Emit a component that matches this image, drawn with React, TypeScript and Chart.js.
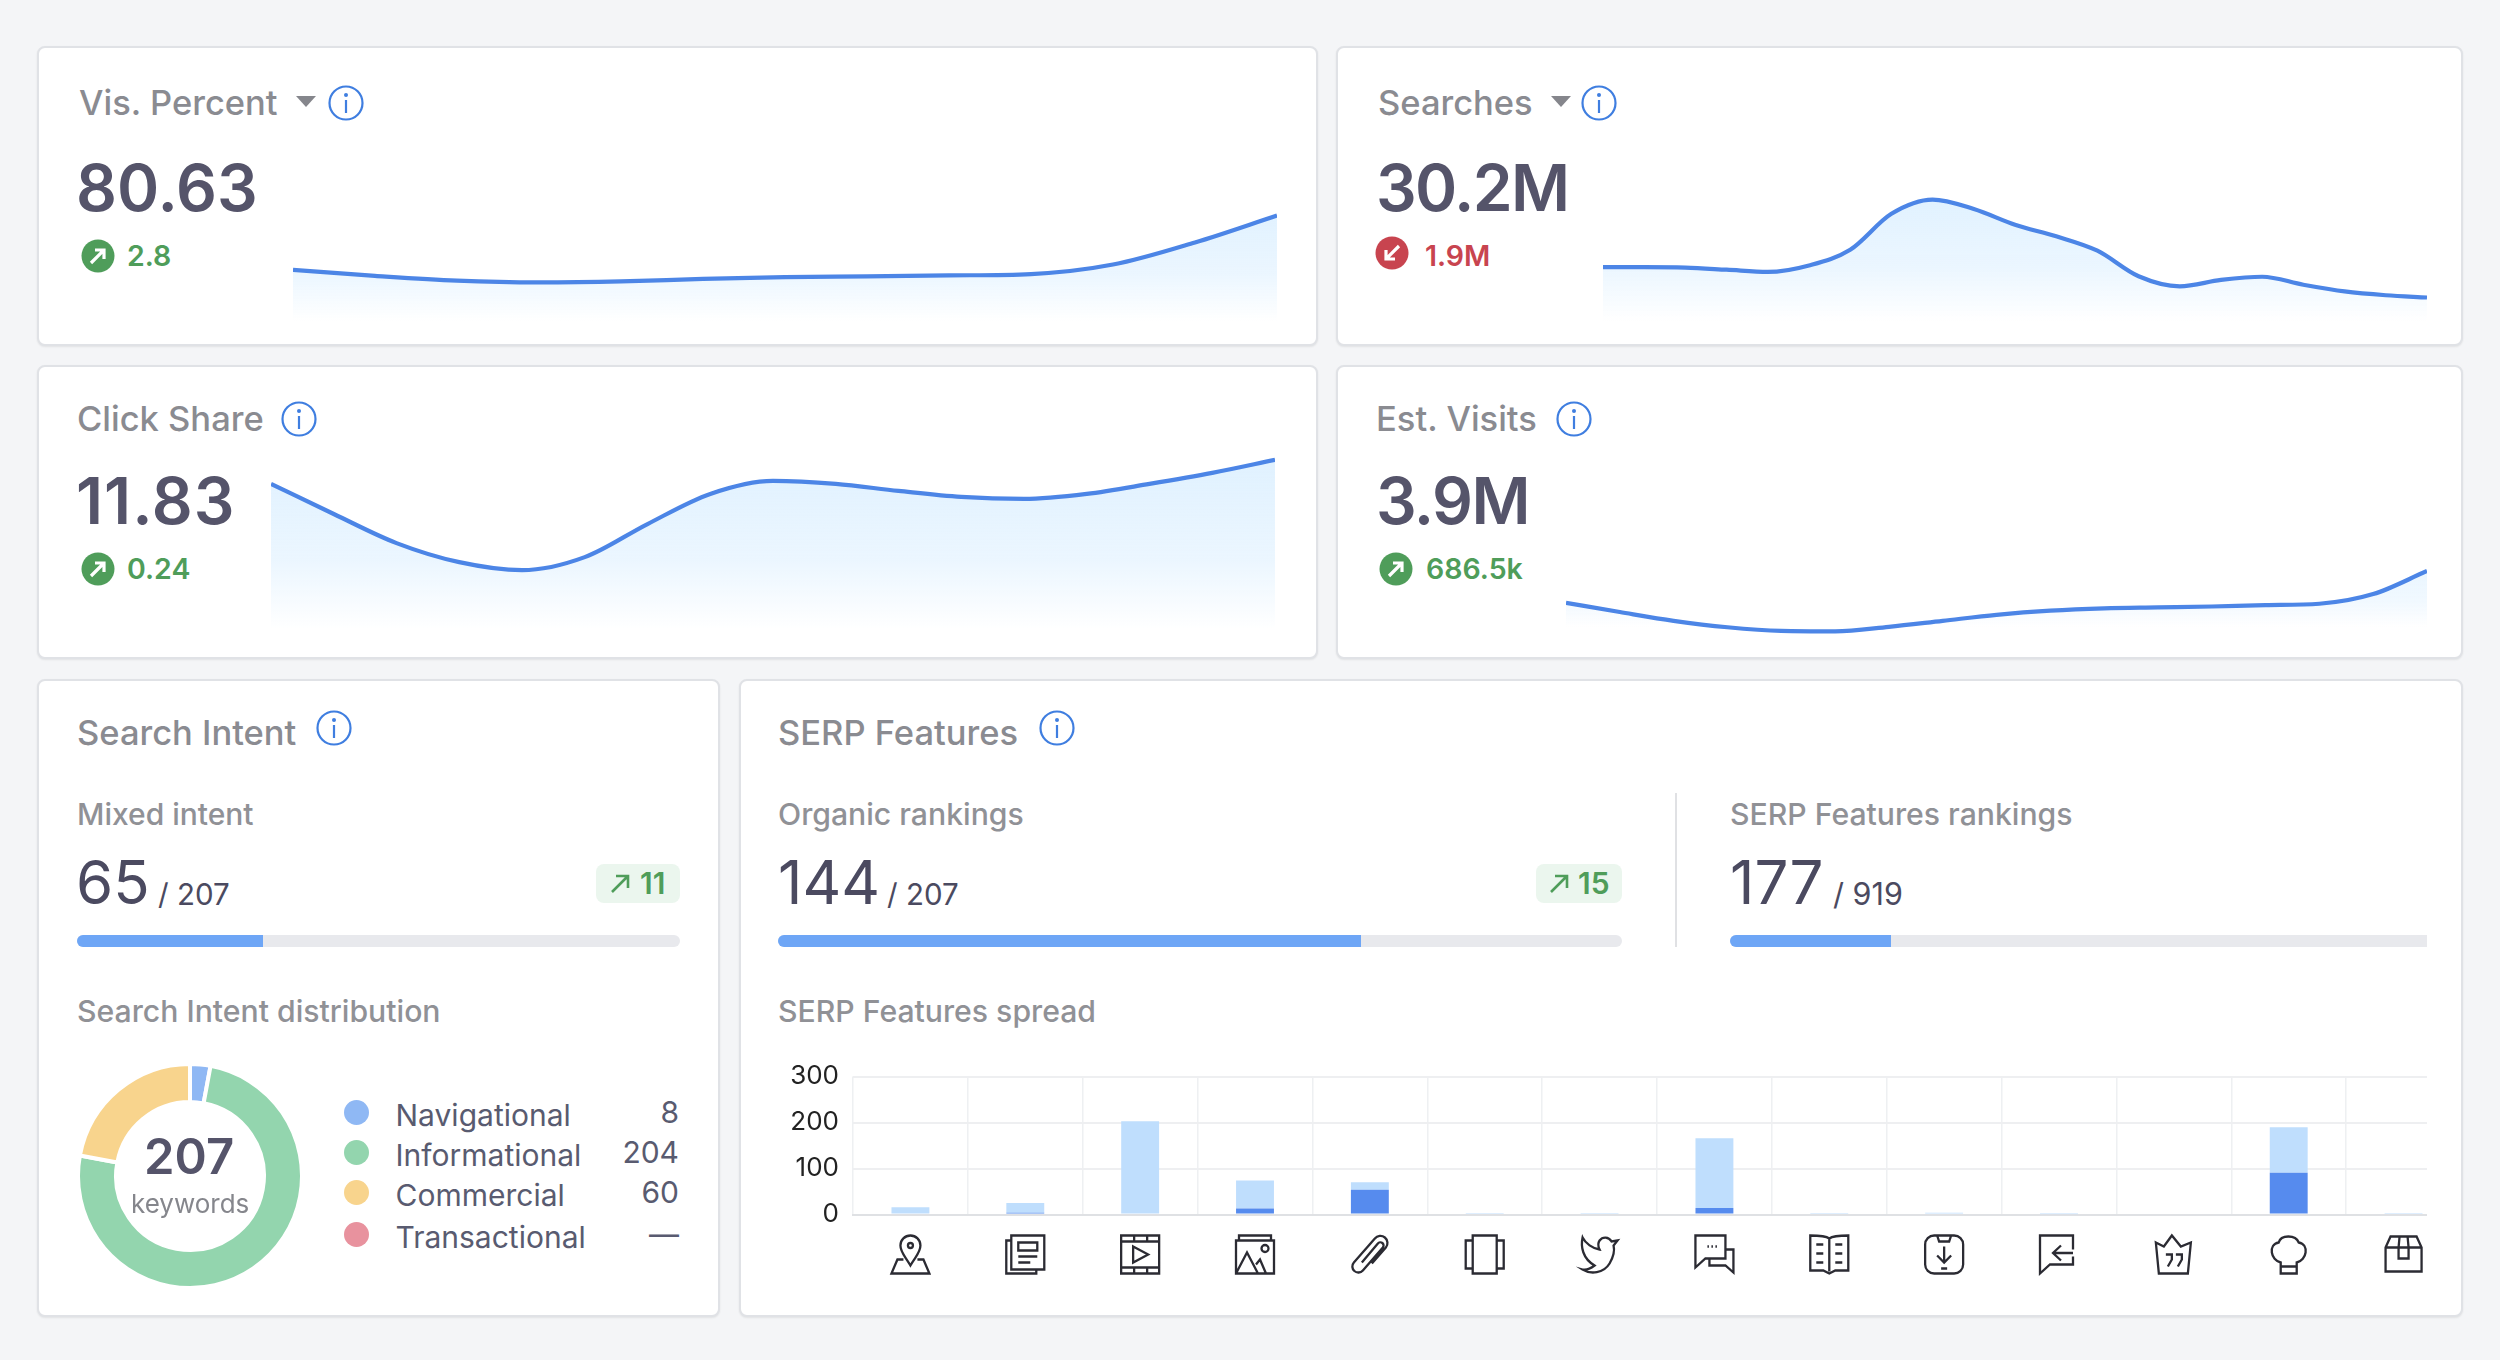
import Chart from "chart.js/auto";
import { useEffect, useRef } from "react";

const visPercentValues = [77.83, 77.52, 77.27, 77.18, 77.23, 77.36, 77.45, 77.49, 77.54, 77.61, 78.1, 79.24, 80.63];
const searchesValues = [32.1, 32.1, 32.07, 31.94, 31.8, 32.21, 33.19, 35.44, 36.33, 35.74, 34.76, 34.03, 33.13, 31.53, 30.9, 31.3, 31.5, 31.0, 30.58, 30.34, 30.2];
const clickShareValues = [11.59, 11.29, 11.0, 10.81, 10.73, 10.86, 11.19, 11.49, 11.62, 11.59, 11.52, 11.46, 11.44, 11.49, 11.59, 11.7, 11.83];
const estVisitsValues = [3.21, 3.01, 2.82, 2.68, 2.6, 2.59, 2.69, 2.82, 2.95, 3.04, 3.09, 3.11, 3.13, 3.16, 3.19, 3.4, 3.9];

const intentLabels = ["Navigational", "Informational", "Commercial", "Transactional"];
const intentValues = [8, 204, 60, 0];
const intentDisplay = ["8", "204", "60", "—"];
const intentColors = ["#8fb8f4", "#93d5ae", "#f8d48d", "#e8929e"];

const featureLabels = ["Local pack", "Top stories", "Video", "Images", "Sitelinks", "Carousel", "Twitter", "People also ask", "Knowledge panel", "App pack", "Reply", "Reviews", "Recipes", "Shopping"];
const featureOwned = [0, 4, 0, 13, 54, 0, 0, 14, 0, 0, 0, 2, 91, 0];
const featureOther = [16, 21, 203, 61, 16, 1, 3, 152, 3, 4, 0.5, 0, 99, 1];
const featureTicks = [0, 100, 200, 300];

// glyphs for the feature axis, 40x40 box
const featureIcons = [
  "M20 31C15 22 10 18 10 11A10 10 0 0 1 30 11C30 18 25 22 20 31ZM22.5 11A2.5 2.5 0 1 1 17.5 11A2.5 2.5 0 1 1 22.5 11ZM13 25H7L1 39H39L33 25H27",
  "M6 1H39V35H6ZM6 6H1V39H31V35M13 8H32V16H13ZM13 22H32M13 28H25",
  "M1 1H39V39H1ZM1 7H39M1 33H39M14 1V7M27 1V7M14 33V39M27 33V39M13 12L28 20L13 28Z",
  "M4 6V1H36V6M1 6H39V39H1ZM1 39L12 18L23 39M21 30L25 25L31 39M33.5 14A3.5 3.5 0 1 1 26.5 14A3.5 3.5 0 1 1 33.5 14Z",
  "M12 28L28 9A3 3 0 0 1 33 13L13 36A6 6 0 0 1 4 28L25 4A7 7 0 0 1 36 13L22 29",
  "M8 1H32V39H8ZM8 6H1V34H8M32 6H39V34H32",
  "M38 6L32 7C29 2 23 2 20 6C18 9 19 13 20 15C13 14 6 9 3 3C1 12 3 24 15 31C11 34 7 36 3 35C11 40 24 39 30 29C34 22 35 15 34 11Z",
  "M1 1H31V24H11L1 33ZM31 15H39V38L31 31H15V24M13 12H14.5M17 12H18.5M21 12H22.5",
  "M20 4C16 1 6 1 1 1V36H14L20 39L26 36H39V1C34 1 24 1 20 4ZM20 4V37M7 10H14M26 10H33M7 19H14M26 19H33M7 28H14M26 28H33",
  "M10 1H30A9 9 0 0 1 39 10V30A9 9 0 0 1 30 39H10A9 9 0 0 1 1 30V10A9 9 0 0 1 10 1ZM13 1L15 7H25L27 1M20 12V28M13 21L20 28L27 21M17 34H23",
  "M34 22V30H11L1 39V1H34V15M34 18.5H15M22 11L14 18.5L22 26",
  "M2 8L10 12L18 1L27 12L37 8L34 39H5ZM12 20H18V25L14 32M22 20H28V25L24 32",
  "M12 28C2 26 -1 10 10 8C12 0 27 0 30 8C41 10 38 26 28 28V39H12ZM12 32H28",
  "M2 13L7 2H33L38 13V37H2ZM2 13H38M16 2L15 13V24H25V13L24 2",
];

const iconPlugin = {
  id: "featureIcons",
  afterDraw(chart: any) {
    const { ctx, scales } = chart;
    ctx.save();
    ctx.strokeStyle = "#2b2b33";
    ctx.lineWidth = 2.3;
    featureIcons.forEach((d, i) => {
      ctx.save();
      ctx.translate(scales.x.getPixelForTick(i) - 20, scales.y.bottom + 20);
      ctx.stroke(new Path2D(d));
      ctx.restore();
    });
    ctx.restore();
  },
};

function Sparkline({ values, x, y, w, h, yMin, yMax, fade = 1, alpha = 0.4 }: any) {
  const canvasRef = useRef<HTMLCanvasElement | null>(null);

  useEffect(() => {
    const ctx = canvasRef.current?.getContext("2d");
    if (!ctx) return;
    const gradient = ctx.createLinearGradient(0, 0, 0, h * fade);
    gradient.addColorStop(0, `rgba(176, 220, 255, ${alpha})`);
    gradient.addColorStop(0.6, `rgba(176, 220, 255, ${alpha * 0.62})`);
    gradient.addColorStop(1, "rgba(176, 220, 255, 0)");
    const chart = new Chart(ctx, {
      type: "line",
      data: {
        labels: values.map((_: number, i: number) => i),
        datasets: [
          {
            data: values,
            borderColor: "#4c85e6",
            borderWidth: 4.2,
            backgroundColor: gradient,
            fill: "start",
            pointRadius: 0,
            cubicInterpolationMode: "monotone",
            clip: 0,
          },
        ],
      },
      options: {
        animation: false,
        responsive: false,
        plugins: { legend: { display: false }, tooltip: { enabled: false } },
        scales: {
          x: { display: false },
          y: { display: false, min: yMin, max: yMax },
        },
      },
    });
    return () => chart.destroy();
  }, []);

  return <canvas ref={canvasRef} width={w} height={h} style={{ position: "absolute", left: x, top: y }} />;
}

function IntentDonut() {
  const canvasRef = useRef<HTMLCanvasElement | null>(null);

  useEffect(() => {
    const ctx = canvasRef.current?.getContext("2d");
    if (!ctx) return;
    const chart = new Chart(ctx, {
      type: "doughnut",
      data: {
        labels: intentLabels,
        datasets: [{ data: intentValues, backgroundColor: intentColors, borderColor: "#fff", borderWidth: 4 }],
      },
      options: {
        animation: false,
        responsive: false,
        cutout: "66%",
        plugins: { legend: { display: false }, tooltip: { enabled: false } },
      },
    });
    return () => chart.destroy();
  }, []);

  return <canvas ref={canvasRef} width={228} height={228} style={{ position: "absolute", left: 76, top: 1062 }} />;
}

function FeatureBars() {
  const canvasRef = useRef<HTMLCanvasElement | null>(null);

  useEffect(() => {
    const ctx = canvasRef.current?.getContext("2d");
    if (!ctx) return;
    const chart = new Chart(ctx, {
      type: "bar",
      data: {
        labels: featureLabels,
        datasets: [
          { data: featureOwned, backgroundColor: "#568bee", stack: "a" },
          { data: featureOther, backgroundColor: "#bfdefd", stack: "a" },
        ],
      },
      options: {
        animation: false,
        responsive: false,
        datasets: { bar: { barPercentage: 0.33, categoryPercentage: 1 } },
        layout: { autoPadding: false, padding: { top: 16, bottom: 85.5, right: 9 } },
        plugins: { legend: { display: false }, tooltip: { enabled: false } },
        scales: {
          x: {
            stacked: true,
            ticks: { display: false },
            grid: { color: "#eef0f2", lineWidth: 1.5, drawTicks: false },
            border: { color: "#dfe1e4", width: 2 },
          },
          y: {
            stacked: true,
            min: 0,
            max: 300,
            afterFit(axis: any) {
              axis.width = 73;
            },
            afterBuildTicks(axis: any) {
              axis.ticks = featureTicks.map((value) => ({ value }));
            },
            ticks: { color: "#222", padding: 14, font: { family: "Inter", size: 26 } },
            grid: { color: "#eeeff1", lineWidth: 2, drawTicks: false },
            border: { display: false },
          },
        },
      },
      plugins: [iconPlugin],
    });
    return () => chart.destroy();
  }, []);

  return (
    <div style={{ position: "absolute", left: 780, top: 1047, width: 1647, height: 253, overflow: "hidden" }}>
      <canvas ref={canvasRef} width={1690} height={253} style={{ display: "block" }} />
    </div>
  );
}

function T({ x, y, size, weight = 400, color, align = "left", spacing = 0, children }: any) {
  const style: any = {
    position: "absolute",
    top: y - size * 0.8636,
    fontFamily: "Inter",
    fontSize: size,
    fontWeight: weight,
    lineHeight: 1,
    letterSpacing: spacing,
    color,
    whiteSpace: "nowrap",
  };
  if (align === "right") style.right = 2500 - x;
  else style.left = x;
  return <div style={style}>{children}</div>;
}

function Card({ x, y, w, h }: any) {
  return (
    <div
      style={{
        position: "absolute",
        left: x,
        top: y,
        width: w,
        height: h,
        boxSizing: "border-box",
        background: "#fff",
        border: "2px solid #e0e2e6",
        borderRadius: 8,
        boxShadow: "0 1px 2px rgba(0,0,0,.08)",
      }}
    />
  );
}

function Info({ x, y }: any) {
  return (
    <svg width={36} height={36} viewBox="0 0 36 36" style={{ position: "absolute", left: x - 18, top: y - 18 }}>
      <circle cx={18} cy={18} r={16.5} fill="none" stroke="#3f7ee0" strokeWidth={2.2} />
      <circle cx={18} cy={10} r={2} fill="#3f7ee0" />
      <path d="M18 15V28" stroke="#3f7ee0" strokeWidth={2.2} />
    </svg>
  );
}

function Caret({ x, y }: any) {
  return (
    <svg width={20} height={11} style={{ position: "absolute", left: x, top: y }}>
      <path d="M0 0H20L10 11Z" fill="#85868c" />
    </svg>
  );
}

function Trend({ x, y, down = false }: any) {
  return (
    <svg width={34} height={34} viewBox="0 0 34 34" style={{ position: "absolute", left: x - 17, top: y - 17 }}>
      <circle cx={17} cy={17} r={16.5} fill={down ? "#c8444f" : "#4f9d5a"} />
      <path
        d={down ? "M24 10L11 23M11 14V23H20" : "M10 24L23 11M14 11H23V20"}
        fill="none"
        stroke="#fff"
        strokeWidth={3.2}
      />
    </svg>
  );
}

function Pill({ x, w, value, arrowX, textX }: any) {
  return (
    <>
      <div style={{ position: "absolute", left: x, top: 864, width: w, height: 39, borderRadius: 8, background: "#ebf6ee" }} />
      <svg width={20} height={20} style={{ position: "absolute", left: arrowX, top: 874 }}>
        <path d="M2 18L17 3M6 2H18V14" fill="none" stroke="#4f9d5a" strokeWidth={2.6} />
      </svg>
      <T x={textX} y={894} size={30} weight={600} color="#4f9d5a">{value}</T>
    </>
  );
}

function Progress({ x, w, fill, square = false }: any) {
  return (
    <div
      style={{
        position: "absolute",
        left: x,
        top: 935,
        width: w,
        height: 12,
        overflow: "hidden",
        background: "#e8e9ed",
        borderRadius: square ? "6px 0 0 6px" : 6,
      }}
    >
      <div style={{ width: fill, height: 12, background: "#6ea6f6" }} />
    </div>
  );
}

const titleColor = "#8a8b91";
const subColor = "#909196";
const bigColor = "#55546a";
const numColor = "#4b4a60";
const green = "#4f9d5a";
const red = "#c8444f";

export default function App() {
  return (
    <div style={{ position: "absolute", left: 0, top: 0, width: 2500, height: 1360, overflow: "hidden", background: "#f4f5f7" }}>
      <Card x={37} y={46} w={1281} h={300} />
      <Card x={1336} y={46} w={1127} h={300} />
      <Card x={37} y={365} w={1281} h={294} />
      <Card x={1336} y={365} w={1127} h={294} />
      <Card x={37} y={679} w={683} h={638} />
      <Card x={739} y={679} w={1724} h={638} />

      <T x={79} y={115.5} size={34.5} weight={500} color={titleColor}>Vis. Percent</T>
      <Caret x={296} y={96} />
      <Info x={346} y={103} />
      <T x={76} y={211} size={64} weight={600} color={bigColor}>80.63</T>
      <Trend x={97.5} y={256} />
      <T x={127} y={267} size={28.5} weight={600} color={green}>2.8</T>
      <Sparkline values={visPercentValues} x={293} y={205} w={984} h={116} yMin={75.19} yMax={81.17} />

      <T x={1378} y={115.5} size={34.5} weight={500} color={titleColor}>Searches</T>
      <Caret x={1551} y={96} />
      <Info x={1599} y={103} />
      <T x={1376} y={211} size={64} weight={600} spacing={-1.6} color={bigColor}>30.2M</T>
      <Trend x={1392} y={253} down />
      <T x={1425} y={267} size={28.5} weight={600} color={red}>1.9M</T>
      <Sparkline values={searchesValues} x={1603} y={190} w={824} h={131} yMin={28.73} yMax={36.93} />

      <T x={77} y={431.5} size={34.5} weight={500} color={titleColor}>Click Share</T>
      <Info x={298.5} y={418.5} />
      <T x={76} y={524} size={64} weight={600} spacing={1} color={bigColor}>11.83</T>
      <Trend x={97.5} y={569} />
      <T x={127} y={580} size={28.5} weight={600} color={green}>0.24</T>
      <Sparkline values={clickShareValues} x={271} y={455} w={1004} h={175} yMin={10.134} yMax={11.878} />

      <T x={1376} y={431.5} size={34.5} weight={500} color={titleColor}>Est. Visits</T>
      <Info x={1574} y={418.5} />
      <T x={1376} y={524} size={64} weight={600} spacing={-1.5} color={bigColor}>3.9M</T>
      <Trend x={1396} y={569} />
      <T x={1426} y={580} size={28.5} weight={600} color={green}>686.5k</T>
      <Sparkline values={estVisitsValues} x={1566} y={560} w={861} h={76} yMin={2.49} yMax={4.14} fade={0.88} alpha={0.3} />

      <T x={77} y={745.5} size={34.5} weight={500} color={titleColor}>Search Intent</T>
      <Info x={333.5} y={727.5} />
      <T x={77} y={825} size={30} weight={500} color={subColor}>Mixed intent</T>
      <T x={76} y={904} size={60} color={numColor}>65</T>
      <T x={158} y={905.5} size={29.5} color={numColor}>/ 207</T>
      <Pill x={596} w={84} value="11" arrowX={610} textX={640} />
      <Progress x={77} w={603} fill={186} />
      <T x={77} y={1022} size={30.2} weight={500} color={subColor}>Search Intent distribution</T>
      <IntentDonut />
      <T x={144} y={1174} size={49} weight={600} color={bigColor}>207</T>
      <T x={131} y={1213} size={26} color="#85868c">keywords</T>
      {intentLabels.map((label, i) => {
        const rowY = [1113, 1153, 1193, 1235][i];
        return (
          <div key={label}>
            <div style={{ position: "absolute", left: 344, top: rowY - 13, width: 25, height: 25, borderRadius: 13, background: intentColors[i] }} />
            <T x={395.5} y={rowY + 12.5} size={30} color="#595b70">{label}</T>
            <T x={679} y={rowY + 10} size={30} color="#595b70" align="right">{intentDisplay[i]}</T>
          </div>
        );
      })}

      <T x={778} y={745.5} size={34.5} weight={500} color={titleColor}>SERP Features</T>
      <Info x={1057} y={727.5} />
      <T x={778} y={825} size={30.2} weight={500} color={subColor}>Organic rankings</T>
      <T x={778} y={904} size={60} color={numColor}>144</T>
      <T x={887} y={905.5} size={29.5} color={numColor}>/ 207</T>
      <Pill x={1536} w={86} value="15" arrowX={1549} textX={1578} />
      <Progress x={778} w={844} fill={583} />
      <div style={{ position: "absolute", left: 1675, top: 793, width: 2, height: 154, background: "#e0e1e4" }} />
      <T x={1730} y={825} size={30.2} weight={500} color={subColor}>SERP Features rankings</T>
      <T x={1730} y={904} size={60} color={numColor}>177</T>
      <T x={1833} y={905.5} size={30.5} color={numColor}>/ 919</T>
      <Progress x={1730} w={697} fill={161} square />
      <T x={778} y={1022} size={30.2} weight={500} color={subColor}>SERP Features spread</T>
      <FeatureBars />
    </div>
  );
}
